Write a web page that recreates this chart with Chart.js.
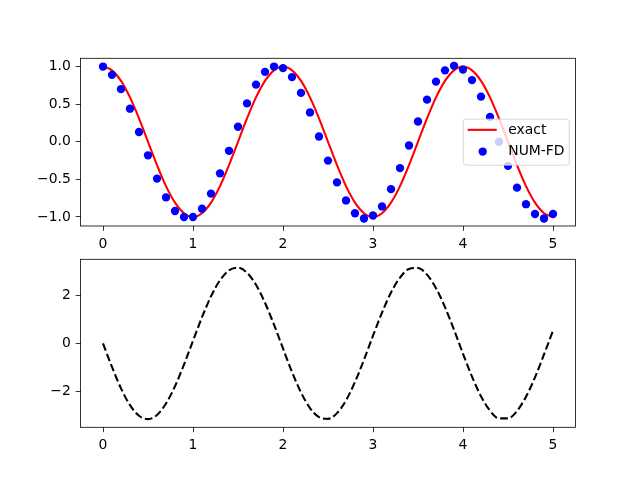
<!DOCTYPE html>
<html lang="en">
<head>
  <meta charset="UTF-8">
  <title>exact vs NUM-FD</title>
  <script src="https://cdn.jsdelivr.net/npm/chart.js"></script>
  <style>
    body { margin: 0; background: #fff; }
    #wrap { position: relative; width: 640px; height: 480px; }
    #wrap canvas { position: absolute; left: 0; }
  </style>
</head>
<body>
  <div id="wrap">
    <canvas id="topChart" width="640" height="250" style="top:0"></canvas>
    <canvas id="bottomChart" width="640" height="250" style="top:230px"></canvas>
  </div>

  <script>
    // time grid (same for all series)
    const tGrid = [0.0, 0.1, 0.2, 0.3, 0.4, 0.5, 0.6, 0.7, 0.8, 0.9,
                   1.0, 1.1, 1.2, 1.3, 1.4, 1.5, 1.6, 1.7, 1.8, 1.9,
                   2.0, 2.1, 2.2, 2.3, 2.4, 2.5, 2.6, 2.7, 2.8, 2.9,
                   3.0, 3.1, 3.2, 3.3, 3.4, 3.5, 3.6, 3.7, 3.8, 3.9,
                   4.0, 4.1, 4.2, 4.3, 4.4, 4.5, 4.6, 4.7, 4.8, 4.9, 5.0];

    // red line "exact"
    const exactY = [1.00, 0.95, 0.81, 0.59, 0.31, 0.00, -0.31, -0.59, -0.81, -0.95,
                    -1.00, -0.95, -0.81, -0.59, -0.31, 0.00, 0.31, 0.59, 0.81, 0.95,
                    1.00, 0.95, 0.81, 0.59, 0.31, 0.00, -0.31, -0.59, -0.81, -0.95,
                    -1.00, -0.95, -0.81, -0.59, -0.31, 0.00, 0.31, 0.59, 0.81, 0.95,
                    1.00, 0.95, 0.81, 0.59, 0.31, 0.00, -0.31, -0.59, -0.81, -0.95, -1.00];

    // blue dots "NUM-FD"
    const numFdY = [1.00, 0.89, 0.70, 0.44, 0.13, -0.18, -0.49, -0.74, -0.92, -1.00,
                    -1.00, -0.89, -0.69, -0.42, -0.12, 0.20, 0.51, 0.76, 0.93, 1.00,
                    0.98, 0.86, 0.65, 0.39, 0.07, -0.25, -0.54, -0.78, -0.95, -1.02,
                    -0.98, -0.86, -0.63, -0.35, -0.05, 0.27, 0.56, 0.80, 0.95, 1.01,
                    0.96, 0.82, 0.60, 0.33, 0.00, -0.32, -0.61, -0.83, -0.96, -1.02, -0.96];

    // black dashed curve (lower panel)
    const velY = [0.00, -0.98, -1.87, -2.57, -3.01, -3.15, -2.98, -2.50, -1.78, -0.88,
                  0.11, 1.09, 1.96, 2.63, 3.04, 3.15, 2.94, 2.44, 1.69, 0.78,
                  -0.21, -1.19, -2.04, -2.69, -3.07, -3.14, -2.90, -2.37, -1.60, -0.68,
                  0.32, 1.28, 2.12, 2.74, 3.10, 3.14, 2.86, 2.30, 1.51, 0.57,
                  -0.43, -1.38, -2.20, -2.80, -3.12, -3.12, -2.81, -2.22, -1.41, -0.46, 0.53];

    const xTicks = [0, 1, 2, 3, 4, 5];
    const yTicksTop = [-1.0, -0.5, 0.0, 0.5, 1.0];
    const yTicksBottom = [-2, 0, 2];

    const FONT = { family: 'DejaVu Sans', size: 13.9 };
    const TICK = 4.86;

    function fmt(v, digits) {
      return (v < 0 ? '\u2212' : '') + Math.abs(v).toFixed(digits);
    }

    function points(arr) {
      return tGrid.map((t, i) => ({ x: t, y: arr[i] }));
    }

    // box around the plot area, like matplotlib spines
    const framePlugin = {
      id: 'frame',
      afterDatasetsDraw(chart) {
        const { ctx, chartArea: a } = chart;
        ctx.save();
        ctx.strokeStyle = '#000';
        ctx.lineWidth = 0.8;
        ctx.strokeRect(a.left, a.top, a.right - a.left, a.bottom - a.top);
        ctx.restore();
      }
    };

    // legend drawn inside the plot, right side, centred vertically
    const legendPlugin = {
      id: 'innerLegend',
      afterDatasetsDraw(chart) {
        const { ctx, chartArea: a } = chart;
        const w = 106, h = 46;
        const x = a.right - 6.2 - w;
        const y = (a.top + a.bottom) / 2 - h / 2;
        ctx.save();
        ctx.beginPath();
        ctx.roundRect(x, y, w, h, 2.8);
        ctx.fillStyle = 'rgba(255,255,255,0.8)';
        ctx.fill();
        ctx.strokeStyle = 'rgba(204,204,204,0.8)';
        ctx.lineWidth = 1;
        ctx.stroke();

        ctx.strokeStyle = '#ff0000';
        ctx.lineWidth = 2.08;
        ctx.beginPath();
        ctx.moveTo(x + 4.4, y + 10.7);
        ctx.lineTo(x + 33.4, y + 10.7);
        ctx.stroke();

        ctx.fillStyle = '#0000ff';
        ctx.beginPath();
        ctx.arc(x + 19.4, y + 32.4, 4.17, 0, Math.PI * 2);
        ctx.fill();

        ctx.fillStyle = '#000';
        ctx.font = '13.9px "DejaVu Sans"';
        ctx.textBaseline = 'middle';
        ctx.fillText('exact', x + 45, y + 11);
        ctx.fillText('NUM-FD', x + 45, y + 32.5);
        ctx.restore();
      }
    };

    function makeChart(id, datasets, opt) {
      const ctx = document.getElementById(id).getContext('2d');
      return new Chart(ctx, {
        type: 'line',
        data: { datasets: datasets },
        options: {
          responsive: false,
          animation: false,
          layout: { padding: { left: 0, right: 64.5, top: opt.padTop, bottom: 0 } },
          plugins: { legend: { display: false }, tooltip: { enabled: false } },
          scales: {
            x: {
              type: 'linear',
              min: -0.25,
              max: 5.25,
              afterBuildTicks: s => { s.ticks = xTicks.map(v => ({ value: v })); },
              afterFit: s => { s.height = opt.xAxisH; },
              grid: { drawOnChartArea: false, drawTicks: true, tickLength: TICK, tickColor: '#000', tickWidth: 0.8 },
              border: { display: false },
              ticks: { color: '#000', font: FONT, padding: TICK, maxRotation: 0, autoSkip: false,
                       callback: v => fmt(v, 0) }
            },
            y: {
              type: 'linear',
              min: opt.yMin,
              max: opt.yMax,
              afterBuildTicks: s => { s.ticks = opt.yTicks.map(v => ({ value: v })); },
              afterFit: s => { s.width = 80.5; },
              grid: { drawOnChartArea: false, drawTicks: true, tickLength: TICK, tickColor: '#000', tickWidth: 0.8 },
              border: { display: false },
              ticks: { color: '#000', font: FONT, padding: TICK, autoSkip: false,
                       callback: v => fmt(v, opt.digits) }
            }
          }
        },
        plugins: opt.plugins
      });
    }

    makeChart('topChart', [
      {
        label: 'NUM-FD',
        data: points(numFdY),
        showLine: false,
        pointRadius: 4.17,
        pointBorderWidth: 0,
        pointBackgroundColor: '#0000ff',
        order: 0
      },
      {
        label: 'exact',
        data: points(exactY),
        borderColor: '#ff0000',
        borderWidth: 2.08,
        pointRadius: 0,
        cubicInterpolationMode: 'monotone',
        order: 1
      }
    ], {
      padTop: 58.3, xAxisH: 24, yMin: -1.12, yMax: 1.11,
      yTicks: yTicksTop, digits: 1, plugins: [framePlugin, legendPlugin]
    });

    makeChart('bottomChart', [
      {
        data: points(velY),
        borderColor: '#000',
        borderWidth: 2.08,
        borderDash: [7.7, 3.3],
        pointRadius: 0,
        cubicInterpolationMode: 'monotone'
      }
    ], {
      padTop: 29.3, xAxisH: 52.7, yMin: -3.49, yMax: 3.50,
      yTicks: yTicksBottom, digits: 0, plugins: [framePlugin]
    });
  </script>
</body>
</html>
